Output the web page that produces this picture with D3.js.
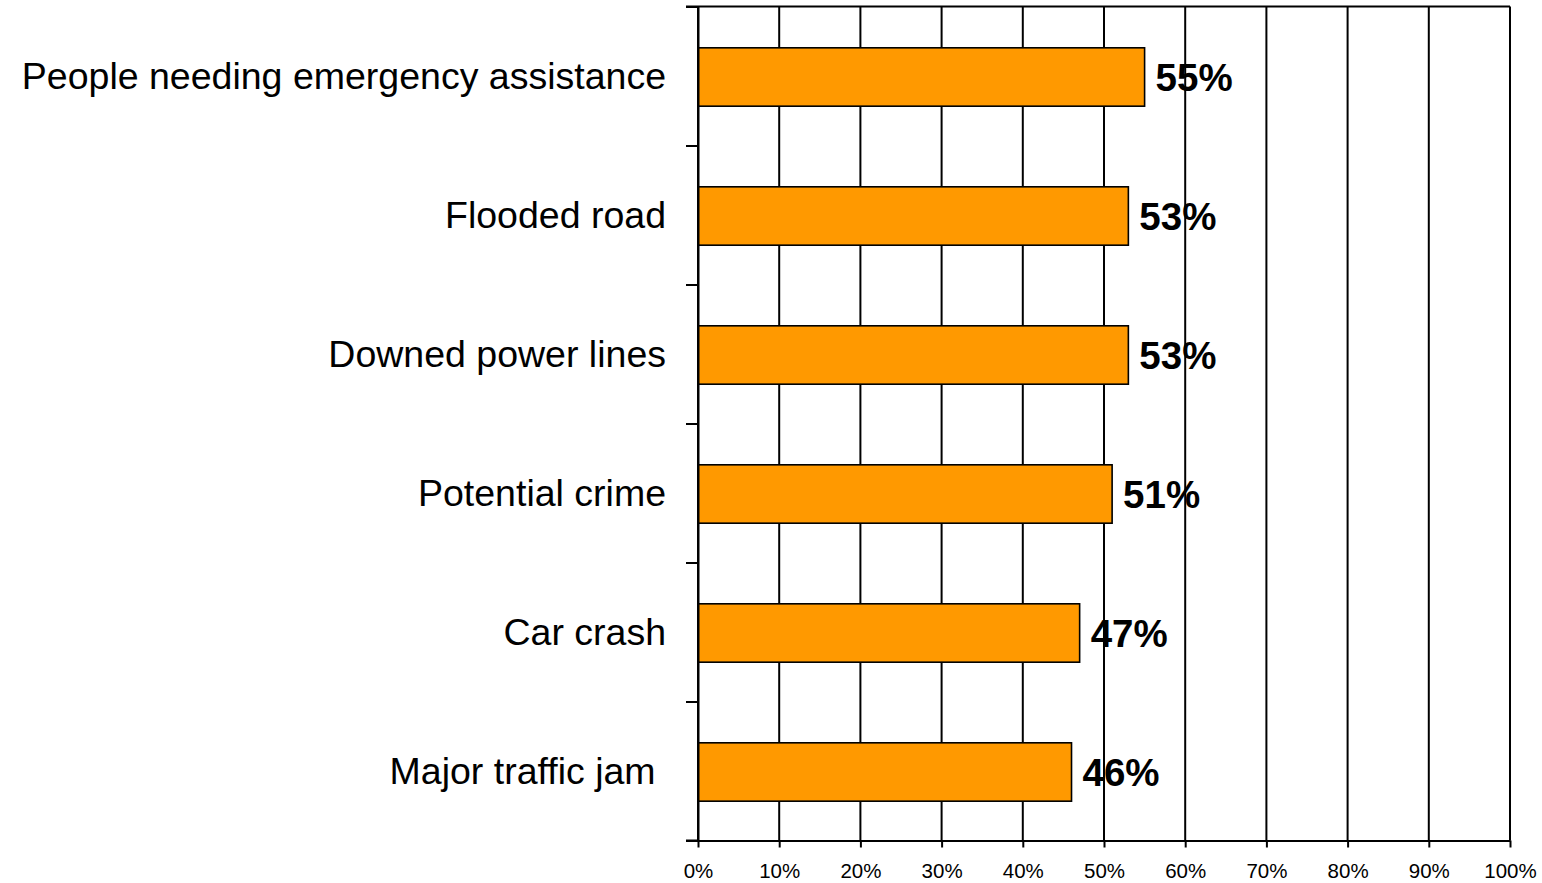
<!DOCTYPE html>
<html>
<head>
<meta charset="utf-8">
<script src="https://cdn.jsdelivr.net/npm/d3@7"></script>
<style>
  html, body { margin: 0; padding: 0; background: #ffffff; }
  svg { display: block; font-family: "Liberation Sans", Arial, sans-serif; }
</style>
</head>
<body>
<svg id="chart" width="1542" height="883"></svg>
<script>
// Situations and share of respondents
const categories = [
  "People needing emergency assistance",
  "Flooded road",
  "Downed power lines",
  "Potential crime",
  "Car crash",
  "Major traffic jam "
];
const values = [0.55, 0.53, 0.53, 0.51, 0.47, 0.46];
const valueLabels = ["55%", "53%", "53%", "51%", "47%", "46%"];
const xTicks = [0, 0.1, 0.2, 0.3, 0.4, 0.5, 0.6, 0.7, 0.8, 0.9, 1.0];

const svg = d3.select("#chart");
const plotLeft = 698, plotRight = 1510, plotTop = 6.5, plotBottom = 840.5;

const x = d3.scaleLinear().domain([0, 1]).range([plotLeft, plotRight]);
const y = d3.scaleBand().domain(categories).range([plotTop, plotBottom])
  .paddingInner(0.58).paddingOuter(0.29);
// category boundaries for the left-axis ticks
const yEdge = d3.scaleLinear().domain([0, categories.length]).range([plotTop, plotBottom]);

// vertical gridlines
svg.append("g").selectAll("line").data(xTicks).join("line")
  .attr("x1", d => x(d)).attr("x2", d => x(d))
  .attr("y1", plotTop).attr("y2", plotBottom)
  .attr("stroke", "#000").attr("stroke-width", 2);

// top border
svg.append("line")
  .attr("x1", plotLeft - 12).attr("x2", plotRight)
  .attr("y1", plotTop).attr("y2", plotTop)
  .attr("stroke", "#000").attr("stroke-width", 2);

// bars
svg.append("g").selectAll("rect").data(categories).join("rect")
  .attr("x", x(0))
  .attr("y", d => y(d) + 1)
  .attr("width", (d, i) => x(values[i]) - x(0))
  .attr("height", y.bandwidth())
  .attr("fill", "#FF9900")
  .attr("stroke", "#000")
  .attr("stroke-width", 1.6);

// left axis with ticks at category boundaries
const yAxis = svg.append("g")
  .attr("transform", `translate(${plotLeft},0)`)
  .call(d3.axisLeft(yEdge).tickValues(d3.range(categories.length + 1))
    .tickFormat("").tickSize(12).tickSizeOuter(0));
yAxis.select(".domain").attr("stroke", "#000").attr("stroke-width", 2);
yAxis.selectAll(".tick line").attr("stroke", "#000").attr("stroke-width", 2);

// bottom axis
const xAxis = svg.append("g")
  .attr("transform", `translate(0,${plotBottom})`)
  .call(d3.axisBottom(x).tickValues(xTicks).tickFormat(d3.format(".0%"))
    .tickSize(7).tickSizeOuter(0).tickPadding(16));
xAxis.select(".domain").attr("stroke", "#000").attr("stroke-width", 2);
xAxis.selectAll(".tick line").attr("stroke", "#000").attr("stroke-width", 2);
xAxis.selectAll(".tick text")
  .attr("font-family", "'Liberation Sans', Arial, sans-serif")
  .attr("font-size", 20.5).attr("fill", "#000");
// extend the baseline to the left tick
svg.append("line")
  .attr("x1", plotLeft - 12).attr("x2", plotLeft)
  .attr("y1", plotBottom).attr("y2", plotBottom)
  .attr("stroke", "#000").attr("stroke-width", 2);

// category labels
svg.append("g").selectAll("text").data(categories).join("text")
  .attr("x", 666)
  .attr("y", d => y(d) + y.bandwidth() / 2)
  .attr("dy", "0.35em")
  .attr("text-anchor", "end")
  .attr("font-size", 37.5)
  .style("white-space", "pre")
  .attr("fill", "#000")
  .text(d => d);

// value labels
svg.append("g").selectAll("text").data(categories).join("text")
  .attr("x", (d, i) => x(values[i]) + 11)
  .attr("y", d => y(d) + y.bandwidth() / 2 + 1)
  .attr("dy", "0.36em")
  .attr("font-size", 38.5)
  .attr("font-weight", "bold")
  .attr("fill", "#000")
  .text((d, i) => valueLabels[i]);
</script>
</body>
</html>
